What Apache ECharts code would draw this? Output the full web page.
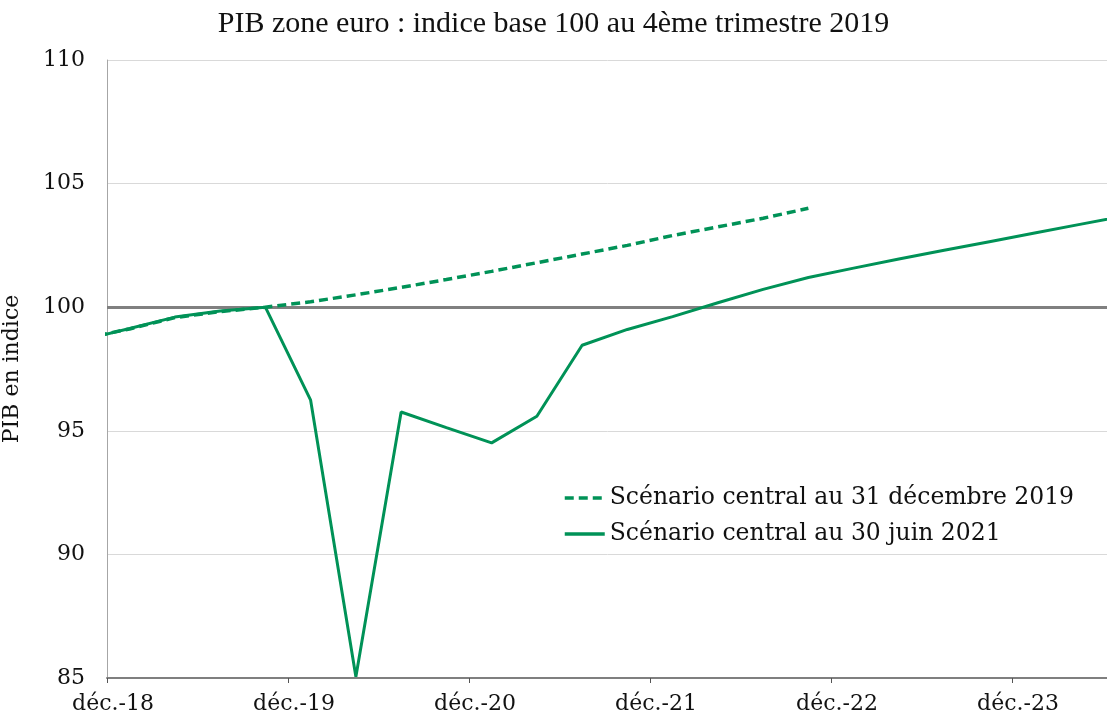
<!DOCTYPE html>
<html>
<head>
<meta charset="utf-8">
<script src="https://cdn.jsdelivr.net/npm/echarts@6/dist/echarts.min.js"></script>
<style>
  html, body { margin: 0; padding: 0; background: #fff; }
  #main { width: 1107px; height: 717px; }
</style>
</head>
<body>
<div id="main"></div>
<script>
// trimestres, du T4 2018 au T3 2024
var quarters = ['T4 2018', 'T1 2019', 'T2 2019', 'T3 2019', 'T4 2019',
    'T1 2020', 'T2 2020', 'T3 2020', 'T4 2020',
    'T1 2021', 'T2 2021', 'T3 2021', 'T4 2021',
    'T1 2022', 'T2 2022', 'T3 2022', 'T4 2022',
    'T1 2023', 'T2 2023', 'T3 2023', 'T4 2023',
    'T1 2024', 'T2 2024', 'T3 2024'];
var scenarioDec2019 = [98.74, 99.12, 99.58, 99.82, 100, 100.22, 100.5, 100.8, 101.12,
    101.45, 101.8, 102.15, 102.5, 102.9, 103.25, 103.6, 104.0];
var scenarioJun2021 = [98.69, 99.14, 99.6, 99.85, 100, 96.24, 85.05, 95.76, 95.13,
    94.51, 95.59, 98.46, 99.1, 99.62, 100.18, 100.72, 101.2,
    101.58, 101.95, 102.3, 102.65, 103.0, 103.35, 103.7];
var tickLabels = ['déc.-18', 'déc.-19', 'déc.-20', 'déc.-21', 'déc.-22', 'déc.-23', 'déc.-24'];

var green = '#009257';
var serif = 'DejaVu Serif';

// position en trimestres depuis décembre 2018 (milieu de trimestre)
function toPoints(values) {
    var pts = [];
    for (var i = 0; i < values.length; i++) {
        pts.push([i - 0.5, values[i]]);
    }
    return pts;
}

var myChart = echarts.init(document.getElementById('main'));
myChart.setOption({
    animation: false,
    title: {
        text: 'PIB zone euro : indice base 100 au 4ème trimestre 2019',
        left: 'center',
        top: 4,
        textStyle: { fontFamily: 'Liberation Serif', fontSize: 30, fontWeight: 'normal', color: '#111' }
    },
    legend: {
        orient: 'vertical',
        left: 558,
        top: 481,
        itemWidth: 40,
        itemHeight: 14,
        itemGap: 12,
        itemStyle: { opacity: 0 },
        lineStyle: { width: 3.5 },
        textStyle: { fontFamily: serif, fontSize: 23.5, color: '#111' },
        data: ['Scénario central au 31 décembre 2019', 'Scénario central au 30 juin 2021']
    },
    grid: {
        left: 107,
        top: 60,
        width: 24 * 45.25,
        height: 618,
        containLabel: false,
        outerBoundsMode: 'none'
    },
    xAxis: {
        type: 'value',
        min: 0,
        max: 24,
        interval: 4,
        axisLine: { lineStyle: { color: '#7f7f7f', width: 2 } },
        axisTick: { show: true, length: 5, lineStyle: { color: '#555', width: 1 } },
        splitLine: { show: false },
        axisLabel: {
            margin: 15,
            padding: [0, 0, 0, 12],
            fontFamily: serif,
            fontSize: 22,
            color: '#111',
            formatter: function (v) {
                return tickLabels[Math.round(v / 4)] || '';
            }
        }
    },
    yAxis: {
        type: 'value',
        min: 85,
        max: 110,
        interval: 5,
        name: 'PIB en indice',
        nameLocation: 'middle',
        nameGap: 84,
        nameTextStyle: { fontFamily: serif, fontSize: 22, color: '#111' },
        axisLine: { show: true, lineStyle: { color: '#a6a6a6', width: 1 } },
        axisTick: { show: false },
        splitLine: { lineStyle: { color: '#d9d9d9', width: 1 } },
        axisLabel: { margin: 22, fontFamily: serif, fontSize: 22, color: '#111' }
    },
    series: [
        {
            name: 'Scénario central au 31 décembre 2019',
            type: 'line',
            symbol: 'none',
            data: toPoints(scenarioDec2019),
            lineStyle: { color: green, width: 3.5, type: [9, 5] },
            itemStyle: { color: green },
            z: 3,
            markLine: {
                silent: true,
                symbol: 'none',
                label: { show: false },
                lineStyle: { color: '#808080', width: 3, type: 'solid' },
                data: [{ yAxis: 100 }],
                z: 2
            }
        },
        {
            name: 'Scénario central au 30 juin 2021',
            type: 'line',
            symbol: 'none',
            data: toPoints(scenarioJun2021),
            lineStyle: { color: green, width: 3 },
            itemStyle: { color: green },
            z: 4
        }
    ]
});
</script>
</body>
</html>
